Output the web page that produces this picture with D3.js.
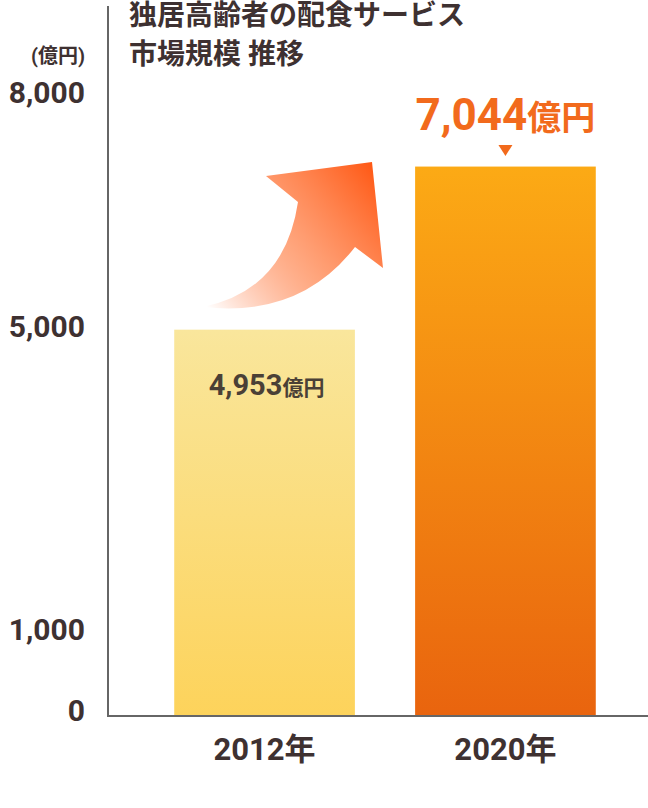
<!DOCTYPE html>
<html>
<head>
<meta charset="utf-8">
<script src="https://cdn.jsdelivr.net/npm/d3@7"></script>
<style>
  body { margin: 0; background: #fff; }
  svg text { font-family: "Roboto", "Noto Sans CJK JP", sans-serif; font-weight: 700; }
</style>
</head>
<body>
<svg id="chart"></svg>
<script>
// chart data
const years = ["2012年", "2020年"];
const marketSize = [4953, 7044];
const yTicks = [0, 1000, 5000, 8000];
const titleLines = ["独居高齢者の配食サービス", "市場規模 推移"];
const unitLabel = "(億円)";

const width = 648;
const height = 808;
const ink = "#3e3131";

const svg = d3.select("#chart")
  .attr("width", width)
  .attr("height", height);

const defs = svg.append("defs");

// bar gradients (light yellow / orange)
const g1 = defs.append("linearGradient").attr("id", "bar0").attr("x1", 0).attr("y1", 0).attr("x2", 0).attr("y2", 1);
g1.append("stop").attr("offset", "0%").attr("stop-color", "#f9e69c");
g1.append("stop").attr("offset", "100%").attr("stop-color", "#fdd35b");

const g2 = defs.append("linearGradient").attr("id", "bar1").attr("x1", 0).attr("y1", 0).attr("x2", 0).attr("y2", 1);
g2.append("stop").attr("offset", "0%").attr("stop-color", "#fcaa15");
g2.append("stop").attr("offset", "100%").attr("stop-color", "#e9640e");

const ga = defs.append("linearGradient").attr("id", "arrowGrad")
  .attr("gradientUnits", "userSpaceOnUse")
  .attr("x1", 205).attr("y1", 305).attr("x2", 380).attr("y2", 165);
ga.append("stop").attr("offset", "0%").attr("stop-color", "#ff5a14").attr("stop-opacity", 0);
ga.append("stop").attr("offset", "45%").attr("stop-color", "#ff8a55").attr("stop-opacity", 0.75);
ga.append("stop").attr("offset", "100%").attr("stop-color", "#ff5510").attr("stop-opacity", 1);

const x = d3.scaleBand()
  .domain(years)
  .range([114, 656])
  .paddingInner(0.25)
  .paddingOuter(0.25);

const y = d3.scaleLinear()
  .domain([0, 8000])
  .range([716, 92]);

// bars
svg.append("g")
  .selectAll("rect")
  .data(years)
  .enter().append("rect")
  .attr("x", d => x(d))
  .attr("y", (d, i) => y(marketSize[i]))
  .attr("width", x.bandwidth())
  .attr("height", (d, i) => y(0) - y(marketSize[i]))
  .attr("fill", (d, i) => `url(#bar${i})`);

// axis lines
svg.append("line")
  .attr("x1", 108).attr("x2", 108)
  .attr("y1", 6).attr("y2", y(0) + 1)
  .attr("stroke", "#666").attr("stroke-width", 2);
svg.append("line")
  .attr("x1", 107).attr("x2", width)
  .attr("y1", y(0)).attr("y2", y(0))
  .attr("stroke", "#666").attr("stroke-width", 2);

// y ticks
const yAxis = svg.append("g")
  .attr("transform", "translate(108,0)")
  .call(d3.axisLeft(y).tickValues(yTicks).tickFormat(d3.format(",")).tickSize(0).tickPadding(23));
yAxis.select(".domain").remove();
yAxis.selectAll("text")
  .attr("fill", ink)
  .style("font-size", "30px")
  .attr("dy", (d) => d === 0 ? "0.15em" : d === 1000 ? "0.05em" : "0.35em");

svg.append("text")
  .attr("x", 85).attr("y", 63)
  .attr("text-anchor", "end")
  .attr("fill", ink)
  .style("font-size", "20px")
  .text(unitLabel);

// x labels
svg.append("g")
  .selectAll("text")
  .data(years)
  .enter().append("text")
  .attr("x", d => x(d) + x.bandwidth() / 2)
  .attr("y", 760)
  .attr("text-anchor", "middle")
  .attr("fill", ink)
  .style("font-size", "31px")
  .text(d => d);

// title
svg.append("g")
  .selectAll("text")
  .data(titleLines)
  .enter().append("text")
  .attr("x", 129)
  .attr("y", (d, i) => 25 + i * 39)
  .attr("fill", ink)
  .style("font-size", "28px")
  .text(d => d);

// growth arrow
svg.append("path")
  .attr("d", "M203,307 Q285,290 298,202 L266,176 L372,162 L383,268 L355,247 Q300,318 203,307 Z")
  .attr("fill", "url(#arrowGrad)");

// value labels
const fmt = d3.format(",");
const c0 = x(years[0]) + x.bandwidth() / 2;
const c1 = x(years[1]) + x.bandwidth() / 2;

const lab0 = svg.append("text")
  .attr("x", c0 + 2).attr("y", 395)
  .attr("text-anchor", "middle")
  .attr("fill", "#4a4036");
lab0.append("tspan").style("font-size", "29px").text(fmt(marketSize[0]));
lab0.append("tspan").style("font-size", "21px").text("億円");

const lab1 = svg.append("text")
  .attr("x", c1).attr("y", 130)
  .attr("text-anchor", "middle")
  .attr("fill", "#f26a1c");
lab1.append("tspan").style("font-size", "44px").text(fmt(marketSize[1]));
lab1.append("tspan").style("font-size", "34px").text("億円");

svg.append("path")
  .attr("d", `M${c1 - 7},145 L${c1 + 7},145 L${c1},156 Z`)
  .attr("fill", "#f26a1c");
</script>
</body>
</html>
